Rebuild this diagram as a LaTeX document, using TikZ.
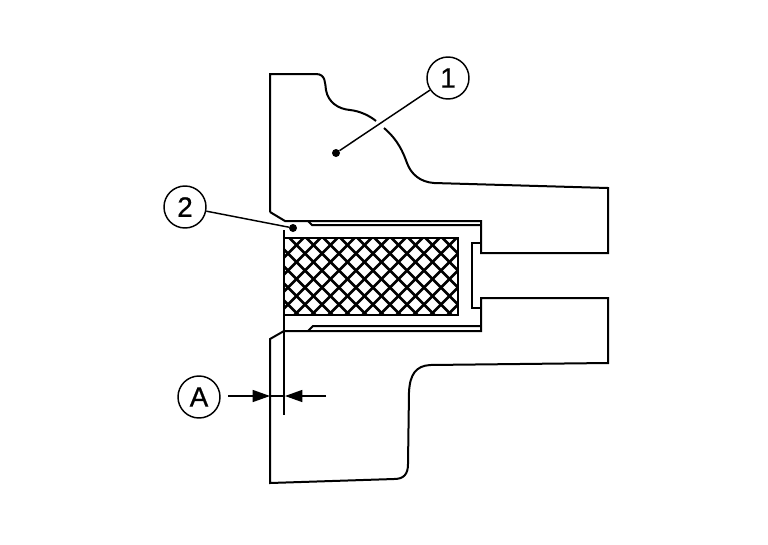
\documentclass[tikz,border=0pt]{standalone}
\usepackage{fontspec}
\setmainfont{Liberation Sans}
\newfontfamily\calloutfont[FakeBold=0.7]{Liberation Sans}
\usetikzlibrary{arrows.meta}
\tikzset{
    outline/.style={line width=1.5pt},
    callout/.style={draw,circle,line width=1.1pt,minimum size=31.5pt,inner sep=0pt,font=\fontsize{21}{21}\calloutfont},
    blob/.style={circle,fill=black,inner sep=0pt,minimum size=6pt},
    dimarrow/.style={line width=1.1pt,-{Triangle[length=13pt,width=9pt]}}
}
\begin{document}
\begin{tikzpicture}[x=0.75pt,y=-0.75pt]
    \useasboundingbox (0,0) rectangle (768,544);
    % --- Upper housing ---
    \draw[outline] (270,212)--(270,74)--(316,74)
        .. controls (326,74) and (325,84) .. (326,90)
        .. controls (328,102) and (338,109) .. (350,110)
        .. controls (360,111) and (370,116) .. (376,121);
    \draw[outline] (384,128)
        .. controls (398,140) and (403,152) .. (407,163)
        .. controls (411,174) and (420,182) .. (434,183)
        --(608,188)--(608,253)--(481,253)--(481,221)--(285,221)--(270,212);
    % --- Lower housing ---
    \draw[outline] (284,331)--(270,339)--(270,483)--(394,479)
        .. controls (404,479) and (408,474) .. (408,464)
        --(409,392)
        .. controls (410,374) and (416,366) .. (430,365)
        --(608,363)--(608,298)--(481,298)--(481,331)--(284,331);
    % --- Seal lips ---
    \draw[outline] (308,221)--(312,225)--(481,225);
    \draw[outline] (308,331)--(313,326)--(481,326);
    \draw[outline] (481,243)--(472,243)--(472,308)--(481,308);
    \draw[outline] (284,230)--(284,415);
    % --- Hatched block ---
    \begin{scope}
        \clip (284,238) rectangle (458,315);
        \foreach \i in {0,...,22}{
            \pgfmathsetmacro{\xa}{211.5+17*\i}
            \draw[line width=1.9pt] (\xa,330)--(\xa+110,220);
            \draw[line width=1.9pt] (\xa-110,220)--(\xa,330);
        }
    \end{scope}
    \draw[line width=1.9pt] (284,238) rectangle (458,315);
    % --- Callouts ---
    \node[callout] (one) at (448,78) {1};
    \node[callout] (two) at (185,207) {2};
    \node[callout] (dima) at (199,397) {A};
    \node[blob] (dotone) at (336,153) {};
    \node[blob] (dottwo) at (293,228) {};
    \draw[line width=1.1pt] (one)--(dotone);
    \draw[line width=1.1pt] (two)--(dottwo);
    % --- Dimension ---
    \coordinate (arrowl) at (228,396);
    \coordinate (arrowr) at (326,396);
    \coordinate (stopl) at (270,396);
    \coordinate (stopr) at (285,396);
    \draw[dimarrow] (arrowl)--(stopl);
    \draw[dimarrow] (arrowr)--(stopr);
    \draw[line width=1.1pt] (stopl)--(stopr);
\end{tikzpicture}
\end{document}
